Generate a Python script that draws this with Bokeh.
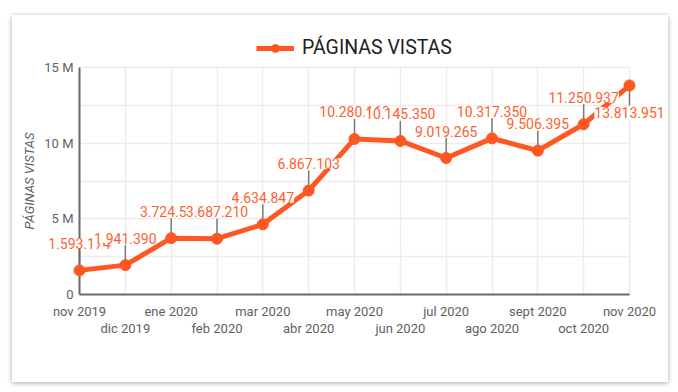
import math
from bokeh.plotting import figure
from bokeh.models import (ColumnDataSource, LinearAxis, FixedTicker, Grid, Range1d,
                          LabelSet, Legend, LegendItem)
from bokeh.core.properties import value
from bokeh.embed import file_html
from bokeh.resources import INLINE

months = ["nov 2019", "dic 2019", "ene 2020", "feb 2020", "mar 2020", "abr 2020",
          "may 2020", "jun 2020", "jul 2020", "ago 2020", "sept 2020", "oct 2020", "nov 2020"]
page_views = [1593174, 1941390, 3724532, 3687210, 4634847, 6867103,
              10280160, 10145350, 9019265, 10317350, 9506395, 11250937, 13813951]
y_ticks = [0, 5000000, 10000000, 15000000]
y_tick_labels = ["0", "5 M", "10 M", "15 M"]
y_minor = [2500000, 7500000, 12500000]

ORANGE = "#ff5722"
LABEL_ORANGE = "#ff5f2e"
GRAY_TXT = "#616161"
AXIS_GRAY = "#6b6b6b"
GRID = "#ececec"
FONT = "Roboto"

idx = list(range(len(months)))
n = len(months)
x_lo, x_hi = 0, n - 1
y_lo, y_hi = y_ticks[0], y_ticks[-1]
labels = ["{:,}".format(v).replace(",", ".") for v in page_views]
above = [i < n - 1 for i in idx]
src = ColumnDataSource(dict(
    x=idx, y=page_views, label=labels,
    yoff=[27 if a else -27 for a in above],
    angle=[math.pi / 2 if a else -math.pi / 2 for a in above],
))

# frame covers the whole card; axes sit at fixed data positions inside it
W, H = 656, 367
ax_left, ax_right, ax_top, ax_bottom = 67, 617, 52, 279
ppx = (ax_right - ax_left) / (x_hi - x_lo)
ppy = (ax_bottom - ax_top) / (y_hi - y_lo)
xr = Range1d(x_lo - ax_left / ppx, x_hi + (W - ax_right) / ppx)
yr = Range1d(y_lo - (H - ax_bottom) / ppy, y_hi + ax_top / ppy)

p = figure(width=W, height=H, output_backend="svg", toolbar_location=None,
           x_axis_type=None, y_axis_type=None, x_range=xr, y_range=yr,
           min_border=0, min_border_left=0, min_border_right=0,
           min_border_top=0, min_border_bottom=0,
           margin=(15, 0, 0, 12),
           styles={"box-shadow": "0 1px 5px rgba(0,0,0,0.35)"})
p.outline_line_color = None
p.background_fill_color = "white"
p.border_fill_color = "white"

# y axis
yax = LinearAxis(ticker=FixedTicker(ticks=y_ticks, minor_ticks=y_minor),
                 major_label_overrides={t: l for t, l in zip(y_ticks, y_tick_labels)},
                 fixed_location=x_lo, bounds=(y_lo, y_hi))
yax.axis_label = "PÁGINAS VISTAS"
yax.axis_label_text_font = FONT
yax.axis_label_text_font_style = "italic"
yax.axis_label_text_font_size = "13px"
yax.axis_label_text_color = GRAY_TXT
yax.axis_label_standoff = 4
yax.major_label_text_font = FONT
yax.major_label_text_font_size = "13px"
yax.major_label_text_color = GRAY_TXT
yax.major_label_standoff = 6
yax.major_tick_out = 0
yax.major_tick_in = 0
yax.minor_tick_out = 0
yax.minor_tick_in = 0
yax.axis_line_color = AXIS_GRAY
yax.axis_line_width = 2
p.add_layout(yax, "left")

# x axes (two staggered rows)
even = [i for i in idx if i % 2 == 0]
odd = [i for i in idx if i % 2 == 1]
xax1 = LinearAxis(ticker=FixedTicker(ticks=even),
                  major_label_overrides={i: months[i] for i in even},
                  fixed_location=y_lo, bounds=(x_lo, x_hi))
xax2 = LinearAxis(ticker=FixedTicker(ticks=odd),
                  major_label_overrides={i: months[i] for i in odd},
                  fixed_location=y_lo, bounds=(x_lo, x_hi))
for ax in (xax1, xax2):
    ax.major_label_text_font = FONT
    ax.major_label_text_font_size = "13px"
    ax.major_label_text_color = GRAY_TXT
    ax.major_tick_out = 0
    ax.major_tick_in = 0
    ax.minor_tick_out = 0
    ax.minor_tick_in = 0
xax1.axis_line_color = AXIS_GRAY
xax1.axis_line_width = 2
xax1.major_label_standoff = 9
xax2.axis_line_color = None
xax2.major_label_standoff = 26
p.add_layout(xax1, "below")
p.add_layout(xax2, "below")

# grids
xgrid = Grid(dimension=0, ticker=FixedTicker(ticks=idx), grid_line_color=GRID, grid_line_width=1.5,
             bounds=(x_lo, x_hi), cross_bounds=(y_lo, y_hi))
ygrid = Grid(dimension=1, ticker=FixedTicker(ticks=y_ticks, minor_ticks=y_minor),
             grid_line_color=GRID, grid_line_width=1.5,
             minor_grid_line_color=GRID, minor_grid_line_width=1.5,
             bounds=(y_lo, y_hi), cross_bounds=(x_lo, x_hi))
p.add_layout(xgrid)
p.add_layout(ygrid)

# leader lines
p.ray(x="x", y="y", length=20, length_units="screen", angle="angle", source=src,
      line_color="#7a7a7a", line_width=1.5)

# series
ln = p.line(x="x", y="y", source=src, line_color=ORANGE, line_width=5, line_join="round")
sc = p.scatter(x="x", y="y", source=src, size=11, fill_color=ORANGE, line_color=ORANGE)
ln.level = "annotation"
sc.level = "annotation"

# data labels
ls = LabelSet(x="x", y="y", text="label", source=src, y_offset="yoff",
              text_align="center", text_baseline="middle",
              text_font=value(FONT), text_font_size="14px", text_color=LABEL_ORANGE,
              background_fill_color="white", background_fill_alpha=1.0)
p.add_layout(ls)

legend = Legend(items=[LegendItem(label="PÁGINAS VISTAS", renderers=[ln, sc])],
                location=(244, 323), orientation="horizontal",
                label_text_font=FONT, label_text_font_size="19.5px", label_text_color="#212121",
                glyph_width=38, glyph_height=20, border_line_color=None,
                background_fill_alpha=0, padding=4, margin=0, label_standoff=8)
p.add_layout(legend, "center")

open("out.html", "w").write(file_html(p, INLINE))
